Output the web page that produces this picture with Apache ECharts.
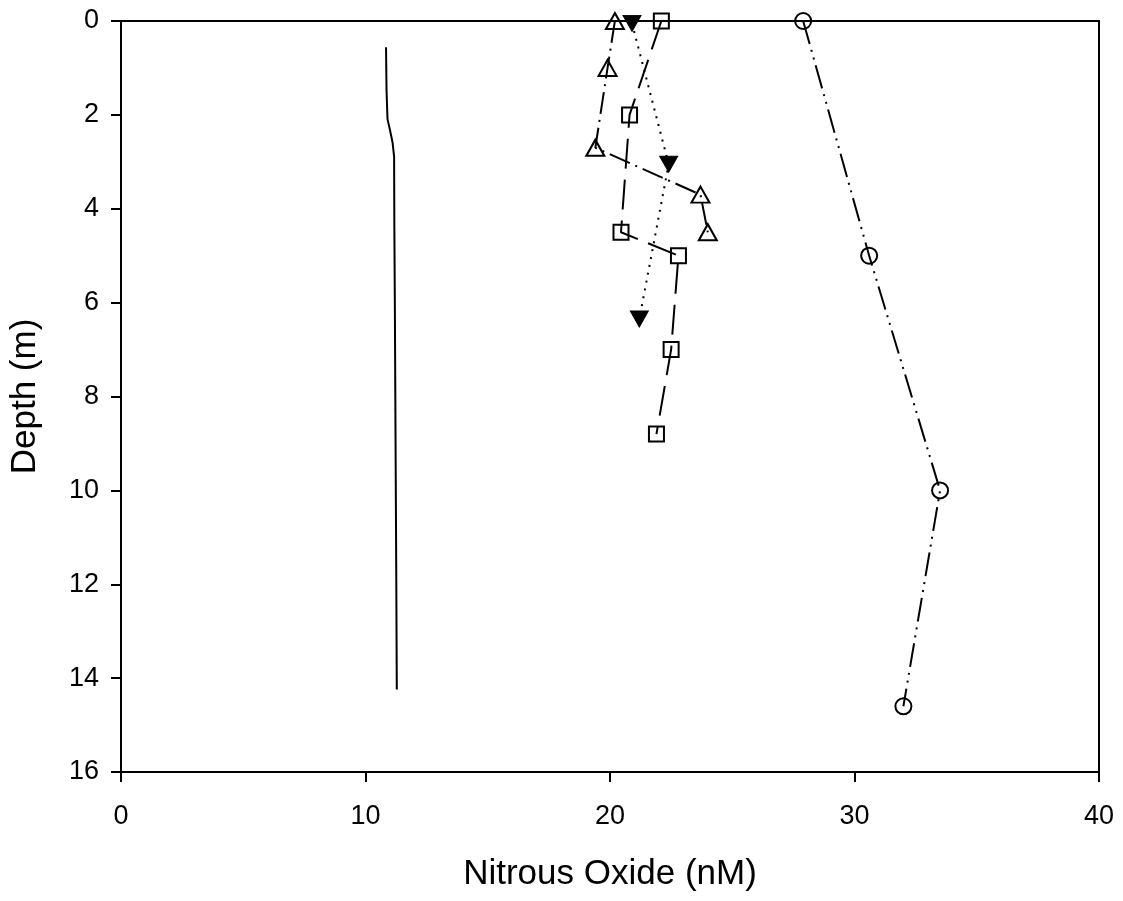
<!DOCTYPE html>
<html>
<head>
<meta charset="utf-8">
<script src="https://cdn.jsdelivr.net/npm/echarts@6/dist/echarts.min.js"></script>
<style>
html,body{margin:0;padding:0;background:#fff;}
#chart{width:1123px;height:901px;}
</style>
</head>
<body>
<div id="chart"></div>
<script>
// Data
const xTicks = [0, 10, 20, 30, 40];
const yTicks = [0, 2, 4, 6, 8, 10, 12, 14, 16];

const circleConc = [27.9, 30.6, 33.5, 32.0];
const circleDepth = [0, 5, 10, 14.6];

const triConc = [20.2, 19.9, 19.4, 23.7, 24.0];
const triDepth = [0, 1.0, 2.7, 3.7, 4.5];

const invConc = [20.9, 22.4, 21.2];
const invDepth = [0.05, 3.05, 6.35];

const sqConc = [22.1, 20.8, 20.45, 22.8, 22.5, 21.9];
const sqDepth = [0, 2.0, 4.5, 5.0, 7.0, 8.8];

const solidConc = [10.84, 10.86, 10.9, 11.0, 11.11, 11.17, 11.18, 11.2, 11.23, 11.26, 11.28];
const solidDepth = [0.56, 1.47, 2.09, 2.32, 2.6, 2.89, 4.4, 6, 9, 12, 14.24];

function pairs(xs, ys) { return xs.map((x, i) => [x, ys[i]]); }

const FONT = '"Liberation Sans", Arial, sans-serif';
const chart = echarts.init(document.getElementById('chart'));

const open = { color: 'transparent', borderColor: '#000', borderWidth: 2 };

chart.setOption({
  backgroundColor: '#fff',
  animation: false,
  grid: { left: 121, right: 24, top: 21, bottom: 129, containLabel: false,
          show: true, borderColor: '#000', borderWidth: 2, backgroundColor: 'transparent' },
  xAxis: {
    type: 'value', min: 0, max: 40, interval: 10,
    name: 'Nitrous Oxide (nM)', nameLocation: 'middle', nameGap: 85,
    nameTextStyle: { fontFamily: FONT, fontSize: 35, color: '#000' },
    axisLine: { show: true, onZero: false, lineStyle: { color: '#000', width: 2 } },
    axisTick: { show: true, inside: false, length: 10, lineStyle: { color: '#000', width: 2 } },
    axisLabel: { fontFamily: FONT, fontSize: 27, color: '#000', margin: 31,
                 formatter: v => xTicks.includes(v) ? String(v) : '' },
    splitLine: { show: false }
  },
  yAxis: {
    type: 'value', min: 0, max: 16, interval: 2, inverse: true,
    name: 'Depth (m)', nameLocation: 'middle', nameGap: 78, nameRotate: 90,
    nameTextStyle: { fontFamily: FONT, fontSize: 35, color: '#000' },
    axisLine: { show: true, onZero: false, lineStyle: { color: '#000', width: 2 } },
    axisTick: { show: true, inside: false, length: 10, lineStyle: { color: '#000', width: 2 } },
    axisLabel: { fontFamily: FONT, fontSize: 27, color: '#000', margin: 22,
                 formatter: v => yTicks.includes(v) ? String(v) : '' },
    splitLine: { show: false }
  },
  series: [
    {
      type: 'line', data: pairs(solidConc, solidDepth), showSymbol: false, clip: false,
      lineStyle: { color: '#000', width: 2, type: 'solid' }
    },
    {
      type: 'line', data: pairs(circleConc, circleDepth), clip: false,
      symbol: 'circle', symbolSize: 16, itemStyle: open,
      lineStyle: { color: '#000', width: 2, type: [24, 6, 2, 6, 2, 6] }
    },
    {
      type: 'line', data: pairs(triConc, triDepth), clip: false,
      symbol: 'triangle', symbolSize: [18, 16], itemStyle: open,
      lineStyle: { color: '#000', width: 2, type: [22, 6, 2, 6] }
    },
    {
      type: 'line', data: pairs(invConc, invDepth), clip: false,
      symbol: 'triangle', symbolRotate: 180, symbolSize: [18, 16],
      itemStyle: { color: '#000', borderColor: '#000', borderWidth: 1 },
      lineStyle: { color: '#000', width: 2, type: [2, 6] }
    },
    {
      type: 'line', data: pairs(sqConc, sqDepth), clip: false,
      symbol: 'rect', symbolSize: 15, itemStyle: open,
      lineStyle: { color: '#000', width: 2, type: [30, 11] }
    }
  ]
});
</script>
</body>
</html>
